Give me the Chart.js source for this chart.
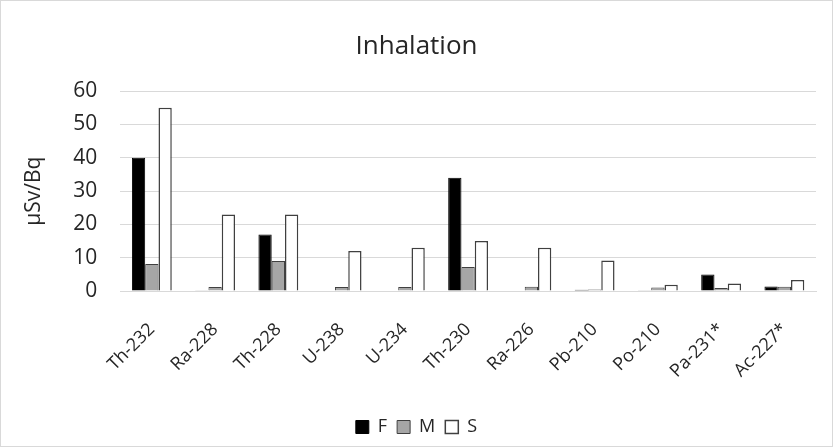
<!DOCTYPE html>
<html>
<head>
<meta charset="utf-8">
<script src="https://cdn.jsdelivr.net/npm/chart.js@4.4.0/dist/chart.umd.min.js"></script>
<style>
    body { margin: 0; background: #fff; }
    #wrap { width: 833px; height: 447px; box-sizing: border-box; border: 1px solid #d9d9d9; position: relative; }
</style>
</head>
<body>
<div id="wrap"><canvas id="inhalationChart"></canvas></div>
<script>
        // Dữ liệu
        const nuclides = ['Th-232', 'Ra-228', 'Th-228', 'U-238', 'U-234', 'Th-230', 'Ra-226', 'Pb-210', 'Po-210', 'Pa-231*', 'Ac-227*'];
        const valuesF = [40, 0.1, 17, 0, 0, 34, 0, 0.4, 0.1, 5, 1.4];
        const valuesM = [8.1, 1.2, 9, 1.2, 1.2, 7.2, 1.3, 0.5, 1.1, 0.9, 1.3];
        const valuesS = [55, 23, 23, 12, 13, 15, 13, 9.2, 1.9, 2.3, 3.3];
        const yTicks = [0, 10, 20, 30, 40, 50, 60];

        Chart.defaults.font.family = "'Open Sans', 'Noto Sans', sans-serif";
        Chart.defaults.color = '#262626';

        const ctx = document.getElementById('inhalationChart').getContext('2d');
        const inhalationChart = new Chart(ctx, {
            type: 'bar',
            data: {
                labels: nuclides,
                datasets: [
                    { label: 'F', data: valuesF, backgroundColor: '#000000', borderColor: '#000000', borderWidth: 1 },
                    { label: 'M', data: valuesM, backgroundColor: '#a6a6a6', borderColor: '#404040', borderWidth: 1 },
                    { label: 'S', data: valuesS, backgroundColor: '#ffffff', borderColor: '#404040', borderWidth: 1.5 }
                ]
            },
            options: {
                responsive: true,
                maintainAspectRatio: false,
                animation: false,
                layout: { padding: { left: 16, right: 16, top: 12, bottom: 0 } },
                datasets: { bar: { categoryPercentage: 0.63, barPercentage: 1 } },
                scales: {
                    x: {
                        grid: { display: false, drawTicks: false },
                        border: { color: '#d9d9d9' },
                        ticks: { maxRotation: 45, minRotation: 45, font: { size: 18 }, padding: 28 },
                        afterFit: axis => { axis.height -= 2; }
                    },
                    y: {
                        min: 0,
                        max: 60,
                        afterBuildTicks: axis => { axis.ticks = yTicks.map(v => ({ value: v })); },
                        grid: { color: '#d9d9d9', drawTicks: false },
                        border: { display: false },
                        ticks: { font: { size: 21 }, padding: 23 },
                        title: { display: true, text: 'µSv/Bq', font: { size: 21 }, padding: 4 }
                    }
                },
                plugins: {
                    title: {
                        display: true,
                        text: 'Inhalation',
                        font: { size: 26, weight: 'normal' },
                        padding: { top: 18, bottom: 29 }
                    },
                    legend: {
                        position: 'bottom',
                        labels: { boxWidth: 13, boxHeight: 13, font: { size: 18 }, padding: 10 }
                    },
                    tooltip: { enabled: false }
                }
            }
        });
</script>
</body>
</html>
